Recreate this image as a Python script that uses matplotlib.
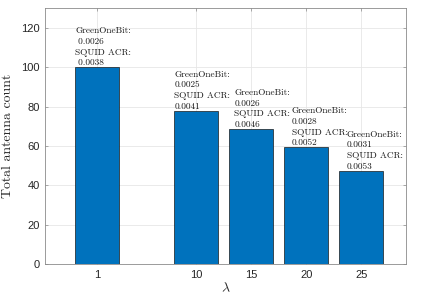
import matplotlib
matplotlib.use("Agg")
import matplotlib.pyplot as plt

# lambda values and total antenna count per run
lambdas = [1, 10, 15, 20, 25]
counts = [100, 78, 68.6, 59.3, 47.4]
green_onebit = ["0.0026", "0.0025", "0.0026", "0.0028", "0.0031"]
squid_acr = ["0.0038", "0.0041", "0.0046", "0.0052", "0.0053"]

# small horizontal nudge of each annotation from its bar's left edge
label_dx = [0, 0, 0.45, 0.7, 0.7]

plt.rcParams["mathtext.fontset"] = "cm"
plt.rcParams["axes.unicode_minus"] = False

fig = plt.figure(figsize=(4.31, 2.99), dpi=100)
ax = fig.add_axes([0.1051, 0.117, 0.8363, 0.855])

bar_w = 4
ax.bar(lambdas, counts, width=bar_w, color="#0072BD", edgecolor="#1a1a1a",
       linewidth=0.5, zorder=3)

for i, (x, c) in enumerate(zip(lambdas, counts)):
    pad = " " if i == 0 else ""
    label = f"GreenOneBit:\n{pad}{green_onebit[i]}\nSQUID ACR:\n{pad}{squid_acr[i]}"
    ax.text(x - bar_w / 2 + label_dx[i], c, label, ha="left", va="bottom",
            fontsize=6.7, family="cmr10", linespacing=1.35, color="#1a1a1a",
            zorder=4)

ax.set_xlim(-3.72, 29.04)
ax.set_ylim(0, 130)
ax.set_xticks(lambdas)
ax.set_yticks(range(0, 121, 20))

ax.grid(True, color="#e6e6e6", linewidth=0.6, zorder=0)
ax.set_axisbelow(True)
for sp in ax.spines.values():
    sp.set_color("#8a8a8a")
    sp.set_linewidth(0.6)

ax.tick_params(direction="in", length=2.5, width=0.5, color="#8a8a8a",
               top=True, right=True, labelsize=8, pad=4)
for lab in ax.get_xticklabels() + ax.get_yticklabels():
    lab.set_family("Liberation Sans")
    lab.set_color("#262626")

ax.set_ylabel("Total antenna count", family="cmr10", fontsize=10, labelpad=5,
              color="#262626")
ax.set_xlabel(r"$\lambda$", fontsize=10, labelpad=1, color="#262626")

fig.savefig("out.png", dpi=100)
